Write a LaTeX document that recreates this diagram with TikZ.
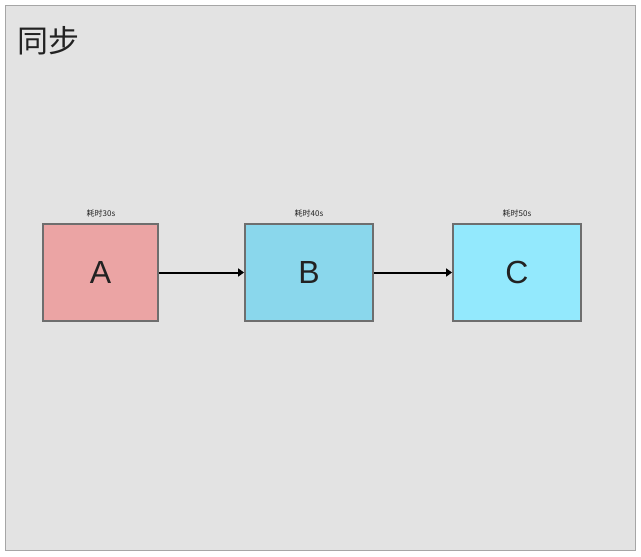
\documentclass[tikz,border=0pt]{standalone}
\usepackage{fontspec}
\setmainfont{Liberation Sans}
\newfontfamily\cjk{Noto Sans CJK SC}
\usetikzlibrary{arrows.meta}

\definecolor{panelbg}{HTML}{E3E3E3}
\definecolor{panelline}{HTML}{A6A6A6}
\definecolor{boxline}{HTML}{6E6E6E}
\definecolor{fillA}{HTML}{EBA4A4}
\definecolor{fillB}{HTML}{8AD7EC}
\definecolor{fillC}{HTML}{93E9FD}
\definecolor{txt}{HTML}{222222}

\begin{document}
\begin{tikzpicture}[x=1pt,y=-1pt]
        \tikzset{task/.style={draw=boxline,line width=1.8pt,minimum height=97pt,
                inner sep=0pt,font=\fontsize{32}{32}\selectfont,text=txt},
            cost/.style={font=\cjk\fontsize{8}{8}\selectfont,text=txt,inner sep=0pt},
            flow/.style={draw=black,line width=2pt,-{Triangle[length=6pt,width=8pt]}}}
        \useasboundingbox (0,0) rectangle (641,557);
        \draw[fill=panelbg,draw=panelline,line width=1pt] (5,5) rectangle (635,550);
        \node[anchor=west,font=\cjk\fontsize{31}{31}\selectfont,text=txt,inner sep=0pt] (title) at (17,41) {同步};
        % tasks
        \node[task,fill=fillA,minimum width=115pt] (A) at (100.5,272.5) {A};
        \node[task,fill=fillB,minimum width=128pt] (B) at (309,272.5) {B};
        \node[task,fill=fillC,minimum width=128pt] (C) at (517,272.5) {C};
        \node[cost] (costA) at (101,213) {耗时30s};
        \node[cost] (costB) at (309,213) {耗时40s};
        \node[cost] (costC) at (517,213) {耗时50s};
        \draw[flow] (A) -- (B);
        \draw[flow] (B) -- (C);
    \end{tikzpicture}
\end{document}
